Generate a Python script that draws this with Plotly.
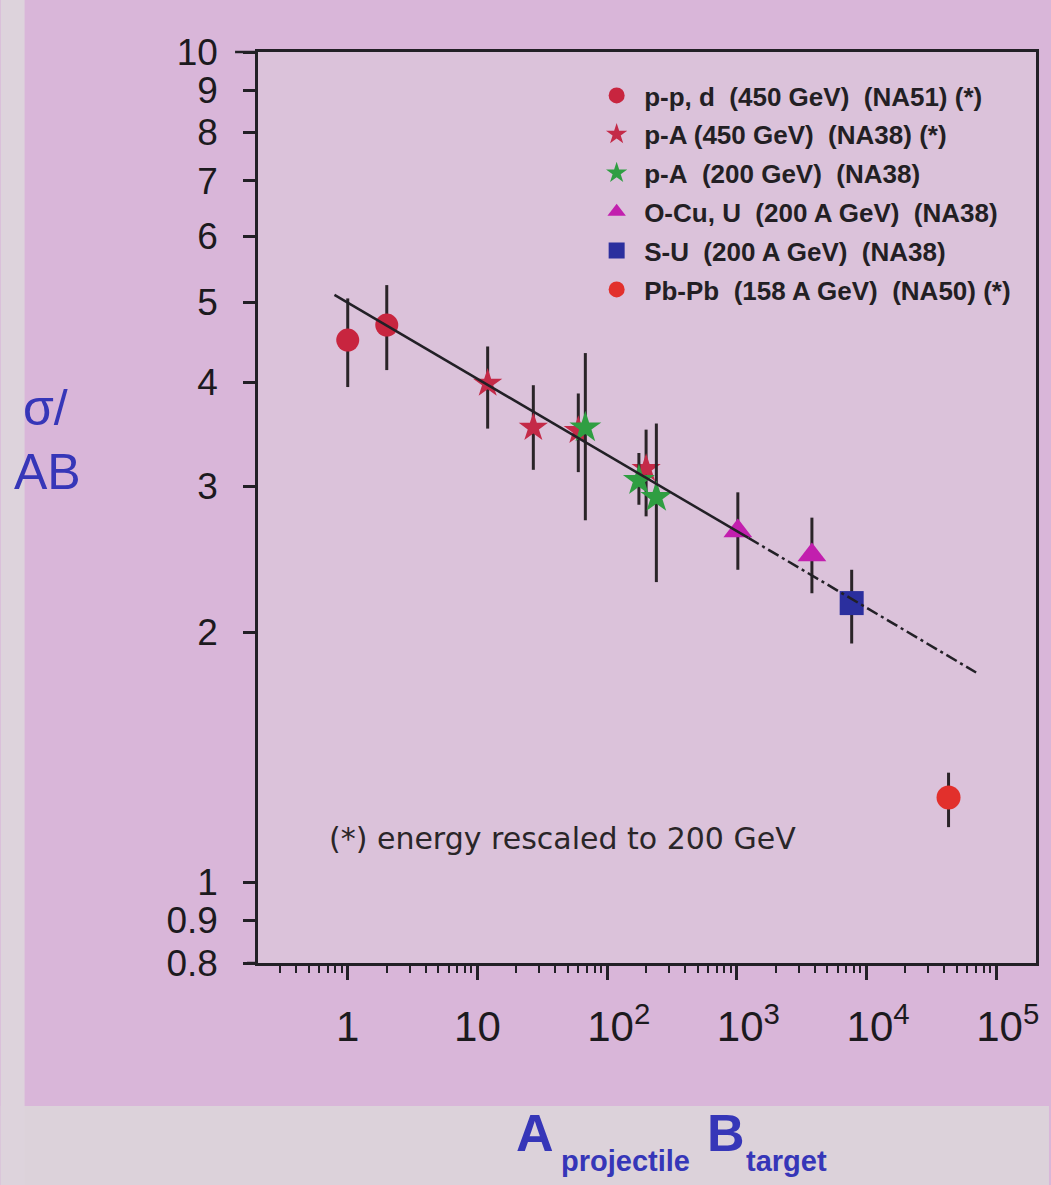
import plotly.graph_objects as go

# ---------------- data ----------------
pp_x = [1, 2]
pp_y = [4.50, 4.69]
pp_ep = [0.55, 0.55]
pp_em = [0.55, 0.55]

pA450_x = [12, 27, 60, 200]
pA450_y = [3.99, 3.53, 3.50, 3.15]
pA450_ep = [0.43, 0.44, 0.38, 0.36]
pA450_em = [0.47, 0.39, 0.38, 0.39]

pA200_x = [68, 176, 240]
pA200_y = [3.53, 3.05, 2.91]
pA200_ep = [0.81, 0.24, 0.66]
pA200_em = [0.80, 0.20, 0.61]

OCuU_x = [1020, 3800]
OCuU_y = [2.65, 2.48]
OCuU_ep = [0.30, 0.27]
OCuU_em = [0.27, 0.25]

SU_x = [7700]
SU_y = [2.17]
SU_ep = [0.21]
SU_em = [0.23]

PbPb_x = [43000]
PbPb_y = [1.266]
PbPb_ep = [0.09]
PbPb_em = [0.10]

fit_solid_x = [0.79, 1230]
fit_solid_y = [5.10, 2.60]
fit_dash_x = [1230, 70200]
fit_dash_y = [2.60, 1.79]

legend_names = [
    "p-p, d\u00a0 (450 GeV)\u00a0 (NA51) (*)",
    "p-A (450 GeV)\u00a0 (NA38) (*)",
    "p-A\u00a0 (200 GeV)\u00a0 (NA38)",
    "O-Cu, U\u00a0 (200 A GeV)\u00a0 (NA38)",
    "S-U\u00a0 (200 A GeV)\u00a0 (NA38)",
    "Pb-Pb\u00a0 (158 A GeV)\u00a0 (NA50) (*)",
]

x_tickvals = [1, 10, 100, 1000, 10000, 100000]
x_ticktext = ["1", "10",
              "\u00a0\u00a010<sup>2</sup>",
              "\u00a0\u00a010<sup>3</sup>",
              "\u00a0\u00a010<sup>4</sup>",
              "\u00a0\u00a010<sup>5</sup>"]
y_tickvals = [0.8, 0.9, 1, 2, 3, 4, 5, 6, 7, 8, 9, 10]
y_ticktext = ["0.8", "0.9", "1", "2", "3", "4", "5", "6", "7", "8", "9", "10"]

# ---------------- layout geometry ----------------
W, H = 1051, 1185
L, R, T, B = 258, 13, 52, 222
PW, PH = W - L - R, H - T - B


def px(xp):
    return (xp - L) / PW


def py(yp):
    return (H - B - yp) / PH


INK = "#222026"
ERR = dict(type="data", symmetric=False, color="#2a2428", thickness=3, width=0)

fig = go.Figure()

series = [
    (pp_x, pp_y, pp_ep, pp_em, "circle", "#c8253f", 23, legend_names[0]),
    (pA450_x, pA450_y, pA450_ep, pA450_em, "star", "#c42a48", 22, legend_names[1]),
    (pA200_x, pA200_y, pA200_ep, pA200_em, "star", "#2f9e42", 24, legend_names[2]),
    (OCuU_x, OCuU_y, OCuU_ep, OCuU_em, "triangle-up", "#c21fae", 25, legend_names[3]),
    (SU_x, SU_y, SU_ep, SU_em, "square", "#2b2f9e", 24, legend_names[4]),
    (PbPb_x, PbPb_y, PbPb_ep, PbPb_em, "circle", "#e2302c", 24, legend_names[5]),
]

for i, (xs, ys, ep, em, sym, col, size, name) in enumerate(series):
    fig.add_trace(go.Scatter(
        x=xs, y=ys, mode="markers", name=name,
        legendgroup=f"g{i}",
        marker=dict(symbol=sym, color=col, size=size, line=dict(width=0)),
        error_y=dict(array=ep, arrayminus=em, **ERR),
    ))

fig.add_trace(go.Scatter(x=fit_solid_x, y=fit_solid_y, mode="lines",
                         line=dict(color=INK, width=2.5), showlegend=False))
fig.add_trace(go.Scatter(x=fit_dash_x, y=fit_dash_y, mode="lines",
                         line=dict(color=INK, width=2.5, dash="12px,4px,3px,4px"),
                         showlegend=False))

minor_vals = [k * 10 ** e for e in range(-1, 5) for k in range(2, 10) if k * 10 ** e >= 0.3]

fig.update_layout(
    width=W, height=H, autosize=False,
    margin=dict(l=L, r=R, t=T, b=B, pad=0),
    paper_bgcolor="#d9b6d9",
    plot_bgcolor="#dbc2da",
    font=dict(family="Liberation Sans, Arial, sans-serif", color="#1c1a1e"),
    showlegend=True,
    legend=dict(
        x=px(590), y=py(72), xanchor="left", yanchor="top",
        bgcolor="rgba(0,0,0,0)", borderwidth=0,
        font=dict(size=26, family="Liberation Sans, Arial, sans-serif",
                  color="#231f24", weight="bold"),
        tracegroupgap=2, traceorder="grouped", itemsizing="trace",
        itemwidth=45,
    ),
    xaxis=dict(
        type="log", range=[-0.692, 5.308],
        tickvals=x_tickvals, ticktext=x_ticktext,
        ticks="outside", ticklen=14, tickwidth=2.5, tickcolor=INK,
        showline=True, linewidth=2.5, linecolor=INK, mirror=True,
        showgrid=False, zeroline=False,
        tickfont=dict(size=42, color="#1c1a1e"),
        ticklabelstandoff=11,
        minor=dict(tickvals=minor_vals, ticks="outside", ticklen=7,
                   tickwidth=2, tickcolor=INK, showgrid=False),
    ),
    yaxis=dict(
        type="log", range=[-0.0969, 1.0],
        tickvals=y_tickvals, ticktext=y_ticktext,
        ticks="outside", ticklen=12, tickwidth=2.5, tickcolor=INK,
        showline=True, linewidth=2.5, linecolor=INK, mirror=True,
        showgrid=False, zeroline=False,
        tickfont=dict(size=37, color="#1c1a1e"),
        ticklabelstandoff=18,
    ),
)

# background bands (light strips at left and bottom of the photographed page)
fig.add_shape(type="rect", xref="paper", yref="paper",
              x0=px(0), x1=px(W), y0=py(H), y1=py(1106),
              fillcolor="#dcd2da", line=dict(width=0), layer="below")
fig.add_shape(type="rect", xref="paper", yref="paper",
              x0=px(0), x1=px(24), y0=py(H), y1=py(0),
              fillcolor="#ddd3dc", line=dict(width=0), layer="below")
# small overhang of the frame lines seen in the original
fig.add_shape(type="line", xref="paper", yref="paper",
              x0=px(235), x1=px(258), y0=1, y1=1,
              line=dict(color=INK, width=2.5))
fig.add_shape(type="line", xref="paper", yref="paper",
              x0=px(247), x1=px(258), y0=0, y1=0,
              line=dict(color=INK, width=2.5))

BLUE = "#3636b8"
ann = [
    dict(text="σ/", x=px(45), y=py(408), size=50),
    dict(text="AB", x=px(47), y=py(472), size=50),
    dict(text="<b>A</b>", x=px(536), y=py(1133), size=52),
    dict(text="<b>projectile</b>", x=px(626), y=py(1161), size=29),
    dict(text="<b>B</b>", x=px(727), y=py(1133), size=52),
    dict(text="<b>target</b>", x=px(788), y=py(1161), size=29),
]
for a in ann:
    fig.add_annotation(text=a["text"], x=a["x"], y=a["y"], xref="paper", yref="paper",
                       showarrow=False, xanchor="center", yanchor="middle",
                       font=dict(size=a["size"], color=BLUE,
                                 family="Liberation Sans, Arial, sans-serif"))

fig.add_annotation(text="(*) energy rescaled to 200 GeV", x=px(563), y=py(838),
                   xref="paper", yref="paper", showarrow=False,
                   xanchor="center", yanchor="middle",
                   font=dict(size=30, color="#2a2628", family="DejaVu Sans, Verdana, sans-serif"))

fig.write_html("out.html")
